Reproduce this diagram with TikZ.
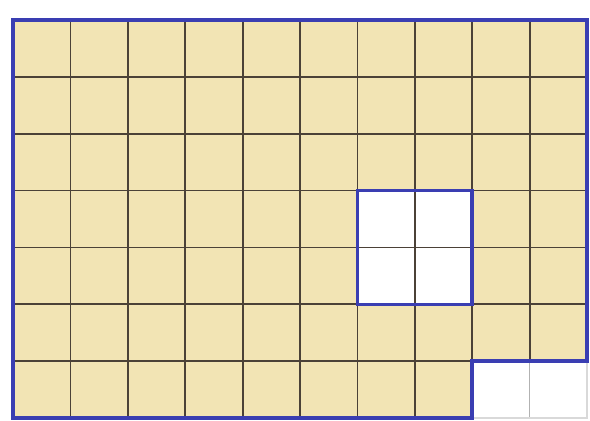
\documentclass[tikz,border=0pt]{standalone}
\begin{document}
\begin{tikzpicture}[x=1pt,y=-1pt,
  gridline/.style={draw=gridc,line width=1.8pt},
  faintline/.style={draw=gray!60,line width=1.5pt},
  outline/.style={draw=bordc,line width=3.6pt,line join=miter},
  cellfill/.style={fill=tan1},
  blank/.style={fill=white}]
\definecolor{tan1}{RGB}{242,228,180}
\definecolor{gridc}{RGB}{75,65,55}
\definecolor{bordc}{RGB}{58,62,178}
\useasboundingbox[fill=white] (0,0) rectangle (590,421);
\def\cw{57.4}
\def\rh{56.86}
% coordinates
\coordinate (TL) at (13,20);
\coordinate (TR) at (587,20);
\coordinate (BL) at (13,418);
\coordinate (NB) at ({13+8*\cw},418);
\coordinate (NC) at ({13+8*\cw},{20+6*\rh});
\coordinate (NR) at (587,{20+6*\rh});
\coordinate (BR) at (587,418);
% yellow region
\path[cellfill] (TL) -- (TR) -- (NR) -- (NC) -- (NB) -- (BL) -- cycle;
% white square
\coordinate (W1) at ({13+6*\cw},{20+3*\rh});
\coordinate (W2) at ({13+8*\cw},{20+5*\rh});
\path[blank] (W1) rectangle (W2);
% grid lines in yellow region
\foreach \i in {1,...,9} {
  \coordinate (vt\i) at ({13+\i*\cw},20);
  \ifnum\i<8
    \coordinate (vb\i) at ({13+\i*\cw},418);
  \else
    \coordinate (vb\i) at ({13+\i*\cw},{20+6*\rh});
  \fi
  \draw[gridline] (vt\i) -- (vb\i);
}
\foreach \j in {1,...,6} {
  \coordinate (hl\j) at (13,{20+\j*\rh});
  \coordinate (hr\j) at (587,{20+\j*\rh});
  \draw[gridline] (hl\j) -- (hr\j);
}
% faint lines in the notch
\coordinate (m1) at ({13+9*\cw},{20+6*\rh});
\coordinate (m2) at ({13+9*\cw},418);
\draw[faintline] (m1) -- (m2);
\draw[faintline,gray!30] (NB) -- (BR) -- (NR);
% white square outline
\draw[outline] (W1) rectangle (W2);
% outer outline
\draw[outline] (TL) -- (TR) -- (NR) -- (NC) -- (NB) -- (BL) -- cycle;
\end{tikzpicture}
\end{document}
